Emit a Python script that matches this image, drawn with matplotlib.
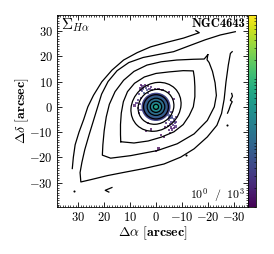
import numpy as np
import matplotlib
matplotlib.use("Agg")
import matplotlib.pyplot as plt
from matplotlib.patches import Circle, Ellipse
from matplotlib.colors import LogNorm
from matplotlib.ticker import MultipleLocator, FuncFormatter, FixedLocator
from matplotlib.cm import ScalarMappable

plt.rcParams['mathtext.fontset'] = 'cm'
plt.rcParams['font.family'] = ['DejaVu Serif']

# ---------------- data (arcsec) ----------------
ARC_L_X = [32.3, 31.9, 31.2, 29.7, 27.9, 26.3, 24.1, 20.9, 17.0, 12.5, 7.3, 2.1, -4.2, -10.7, -16.7, -15.4]
ARC_L_Y = [-24.4, -20.0, -15.0, -10.0, -5.0, 0.0, 4.6, 9.9, 14.5, 18.5, 21.4, 23.7, 25.5, 27.2, 29.3, 30.1]

E_X = [-30.6, -24.8, -19.0, -13.0, -6.8, -1.0, 5.0, 10.5, 15.0, 18.5, 21.0, 22.5, 24.0, 25.8, 27.5,
       28.6, 29.3, 29.0, 25.2, 18.8, 12.3, 4.6, -3.1, -9.5, -14.7, -19.8, -23.5, -25.3, -26.3, -27.0,
       -27.9, -28.7, -29.4]
E_Y = [29.7, 28.4, 26.5, 24.2, 21.8, 20.7, 19.5, 17.5, 14.3, 10.0, 5.0, 0.0, -5.0, -11.0, -17.0,
       -22.0, -26.0, -29.7, -28.8, -27.2, -25.9, -24.4, -22.6, -19.9, -16.6, -11.9, -7.3, -2.6, 3.0, 9.8,
       16.5, 21.1, 21.8]

C3_X = [-20.0, -18.6, -14.5, -8.0, -2.0, 3.5, 8.5, 12.5, 15.8, 18.0, 19.2, 20.0, 20.5, 20.7, 17.5,
        9.8, -0.5, -8.2, -14.7, -19.8, -22.5, -23.3, -22.8, -21.8, -20.5, -19.7, -20.0]
C3_Y = [20.6, 18.9, 18.8, 18.5, 17.8, 16.5, 14.0, 10.5, 6.0, 1.0, -4.0, -9.5, -15.0, -19.1, -20.3,
        -19.3, -17.3, -14.6, -10.7, -5.4, 0.0, 4.5, 9.5, 14.0, 17.5, 18.6, 20.6]

C4_X = [13.6, 8.5, 3.0, -2.0, -6.9, -10.5, -12.8, -14.4, -15.0, -15.0, -14.8, -14.4, -10.5, -5.0,
        0.0, 4.5, 8.3, 11.0, 12.6, 13.4, 13.7, 13.7, 13.6]
C4_Y = [-13.8, -14.3, -13.5, -12.0, -9.9, -7.0, -3.5, 0.0, 4.0, 8.0, 11.5, 14.2, 14.3, 13.8,
        13.2, 11.8, 9.3, 6.0, 2.0, -2.5, -7.0, -11.0, -13.8]

# inner near-elliptical contours: semi-axes (major, minor) and position angle in data coords
ELL_A = [10.3, 7.2]
ELL_B = [9.0, 6.6]
ELL_PA = [135, 135]
# innermost circular contours (radius)
RING_R = [1.0, 2.2, 3.4, 4.8]

HOOK_X = [17.0, 19.6, 18.2]
HOOK_Y = [-31.9, -33.0, -33.7]
ZIG_X = [-27.6, -28.1, -28.8, -29.4, -28.7, -29.5, -29.2]
ZIG_Y = [-2.5, -1.3, 0.8, 2.0, 2.6, 4.2, 5.3]
DOT_X = [-11.4, -27.5, 31.5]
DOT_Y = [-19.1, -7.3, -33.1]

# H-alpha surface brightness: central layers (radius, value)
BLOB_R = [5.6, 4.4, 3.0, 1.8, 0.7]
BLOB_V = [4, 8, 14, 28, 60]
# scattered emission pixels
SPK_X = [6.2, 5.2, 4.0, 3.0, 2.0, 5.5, 4.5, 6.5, 3.5, 1.5, 0.5, -1.0, -2.5,
         5.0, 6.0, 3.0, 2.5, 4.2, 5.8,
         7.5, 7.0, 6.8, 8.3, 6.5, 6.3, 6.0, 5.8,
         -4.5, -5.5, -6.0, -5.0, -6.8, -7.2, -6.5, -7.5, -5.8, -6.2, -5.3, -4.0, -3.5, -7.8, -6.0,
         -4.8, -5.2, -6.3, -7.0, -6.0, -5.5, -7.8, -6.8, -5.0, -4.5,
         -3.0, 0.0, -1.0, 2.0, -2.0, 3.0, -7.0, -5.0, 4.0]
SPK_Y = [7.6, 8.0, 7.5, 8.2, 7.8, 6.2, 5.5, 5.0, 6.5, 6.6, 7.2, 7.0, 6.5,
         7.0, 6.5, 5.5, 7.0, 8.7, 8.6,
         1.5, -0.5, 2.8, 0.5, -2.5, 1.0, -1.2, 3.5,
         -2.5, -3.5, -4.5, -5.0, -5.5, -6.5, -7.2, -7.8, -8.2, -9.0, -10.5, -6.5, -8.0, -4.0, -2.0,
         -3.2, -4.2, -3.8, -4.8, -6.0, -6.8, -6.0, -8.5, -9.2, -7.5,
         -12.0, -17.5, -16.5, -9.0, -11.0, -6.5, 3.0, 6.0, -9.5]
SPK_V = [1.5, 2, 3, 1.5, 2, 4, 6, 3, 5, 2, 1.5, 1.5, 1.2,
         3, 2, 4, 2, 1.5, 1.3,
         2, 3, 2.5, 1.5, 2, 3, 3, 3,
         4, 6, 5, 3, 4, 3, 2, 2, 1.5, 1.5, 1.5, 2, 1.2, 2, 3,
         5, 4, 4, 3, 3, 2, 2, 1.5, 1.5, 1.5,
         1.2, 1.1, 1.1, 1.2, 1.2, 1.5, 1.5, 1.2, 1.2]

XLIM = (38.2, -35.5)
YLIM = (-39.6, 36.3)
TICKS = [-30, -20, -10, 0, 10, 20, 30]
VMIN, VMAX = 1, 1000

# ---------------- figure ----------------
fig = plt.figure(figsize=(2.74, 2.54), dpi=100)
ax = fig.add_axes([57 / 274, 47 / 254, 191 / 274, 192 / 254])
cmap = plt.get_cmap('viridis')
norm = LogNorm(vmin=VMIN, vmax=VMAX)

for r, v in zip(BLOB_R, BLOB_V):
    ax.add_patch(Circle((0, 0), r, facecolor=cmap(norm(v)), edgecolor='none', zorder=1))
ax.scatter(SPK_X, SPK_Y, c=SPK_V, cmap=cmap, norm=norm, marker='s', s=2.5, alpha=0.75,
           linewidths=0, zorder=2)

lw = 0.9
kw = dict(color='k', lw=lw, zorder=3, solid_joinstyle='round')
ax.plot(ARC_L_X, ARC_L_Y, **kw)
ax.plot(E_X, E_Y, **kw)
ax.plot(C3_X, C3_Y, **kw)
ax.plot(C4_X, C4_Y, **kw)
for a, b, pa in zip(ELL_A, ELL_B, ELL_PA):
    ax.add_patch(Ellipse((0, 0), 2 * a, 2 * b, angle=pa, fill=False, edgecolor='k', lw=lw, zorder=3))
for r in RING_R:
    ax.add_patch(Circle((0, 0), r, fill=False, edgecolor='k', lw=lw, zorder=3))
ax.plot(HOOK_X, HOOK_Y, **kw)
ax.plot(ZIG_X, ZIG_Y, **kw)
ax.plot(DOT_X, DOT_Y, 'o', color='k', ms=1.5, mew=0, zorder=3)

ax.set_xlim(*XLIM)
ax.set_ylim(*YLIM)
ax.xaxis.set_major_locator(FixedLocator(TICKS))
ax.yaxis.set_major_locator(FixedLocator(TICKS))
ax.xaxis.set_minor_locator(MultipleLocator(1))
ax.yaxis.set_minor_locator(MultipleLocator(1))
fmt = FuncFormatter(lambda v, p: r'$\mathbf{%d}$' % v)
ax.xaxis.set_major_formatter(fmt)
ax.yaxis.set_major_formatter(fmt)
ax.tick_params(which='both', direction='in', top=True, right=True, labelsize=9, pad=3)
ax.tick_params(which='major', length=3.5, width=0.6)
ax.tick_params(which='minor', length=1.6, width=0.5)
for s in ax.spines.values():
    s.set_linewidth(0.6)

ax.set_xlabel(r'$\mathbf{\Delta}\alpha\ \mathbf{[arcsec]}$', fontsize=10, labelpad=0.5)
ax.set_ylabel(r'$\mathbf{\Delta}\delta\ \mathbf{[arcsec]}$', fontsize=10, labelpad=-1.5)

ax.text(0.02, 0.995, r'$\Sigma_{H\alpha}$', transform=ax.transAxes, ha='left', va='top', fontsize=11)
ax.text(0.985, 0.985, 'NGC4643', transform=ax.transAxes, ha='right', va='top', fontsize=9,
        family='cmb10')
ax.text(0.985, 0.012, r'$\mathbf{10^0\ \ /\ \ 10^3}$', transform=ax.transAxes, ha='right',
        va='bottom', fontsize=8.5)

cax = fig.add_axes([248 / 274, 47 / 254, 8 / 274, 192 / 254])
sm = ScalarMappable(norm=norm, cmap=cmap)
cb = fig.colorbar(sm, cax=cax)
cb.outline.set_linewidth(0.6)
cax.tick_params(which='both', direction='in', labelright=False, length=1.5, width=0.4)

fig.savefig('out.png', dpi=100)
